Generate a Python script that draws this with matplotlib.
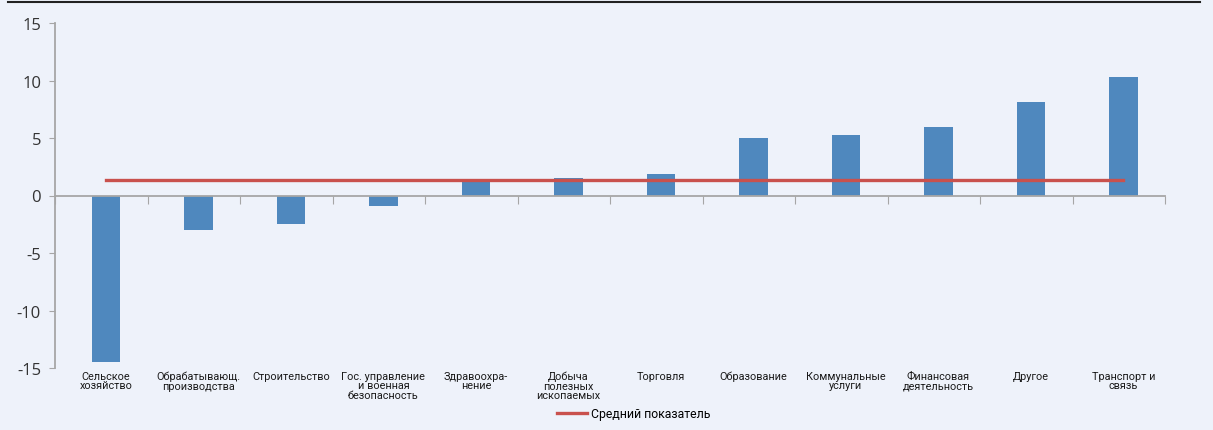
import numpy as np
import matplotlib
matplotlib.use("Agg")
import matplotlib.pyplot as plt
from matplotlib.lines import Line2D

categories = [
    "Сельское\nхозяйство",
    "Обрабатывающ.\nпроизводства",
    "Строительство",
    "Гос. управление\nи военная\nбезопасность",
    "Здравоохра-\nнение",
    "Добыча\nполезных\nископаемых",
    "Торговля",
    "Образование",
    "Коммунальные\nуслуги",
    "Финансовая\nдеятельность",
    "Другое",
    "Транспорт и\nсвязь",
]
values = [-14.5, -3.0, -2.5, -0.9, 1.2, 1.5, 1.9, 5.0, 5.3, 6.0, 8.1, 10.3]
mean_value = 1.35
legend_label = "Средний показатель"

bg = "#EEF2FA"
bar_color = "#4F88BE"
line_color = "#C9514D"
axis_color = "#A6A6A6"

plt.rcParams["font.family"] = ["Roboto", "DejaVu Sans"]

fig = plt.figure(figsize=(12.13, 4.31), dpi=100, facecolor=bg)
ax = fig.add_axes([55 / 1213, 1 - 369 / 431, 1110 / 1213, 345 / 431])
ax.set_facecolor(bg)

x = np.arange(len(categories))
shift = 0.05  # bars sit slightly right of the category centre
ax.bar(x + shift, values, width=0.31, color=bar_color, zorder=2)
ax.plot([x[0] + shift, x[-1] + shift], [mean_value, mean_value],
        color=line_color, lw=2.4, zorder=3)

ax.set_xlim(-0.5, len(categories) - 0.5)
ax.set_ylim(-15, 15)
ax.set_yticks([-15, -10, -5, 0, 5, 10, 15])
ax.set_yticklabels(["-15", "-10", "-5", "0", "5", "10", "15"])
ax.tick_params(axis="y", length=4, color=axis_color, labelsize=12,
               labelcolor="#333333", pad=6)
for t in ax.get_yticklabels():
    t.set_family(["Open Sans", "DejaVu Sans"])

for s in ["top", "right"]:
    ax.spines[s].set_visible(False)
ax.spines["left"].set_color(axis_color)
ax.spines["bottom"].set_color(axis_color)
ax.spines["bottom"].set_position(("data", 0))
ax.spines["bottom"].set_linewidth(1.3)
ax.spines["left"].set_linewidth(1.3)

ax.set_xticks(np.arange(len(categories) + 1) - 0.5)
ax.set_xticklabels([])
ax.tick_params(axis="x", length=6, color=axis_color, direction="out")

trans = ax.get_xaxis_transform()
for xi, lab in zip(x, categories):
    ax.text(xi + shift, -0.008, lab, transform=trans, ha="center", va="top",
            fontsize=7.8, color="#1A1A1A", linespacing=0.95)

fig.add_artist(Line2D([8 / 1213, 1200 / 1213], [1 - 3 / 431, 1 - 3 / 431],
                      color="#222222", lw=1.5))

handle = Line2D([], [], color=line_color, lw=2.4)
fig.legend([handle], [legend_label], loc="center", bbox_to_anchor=(634 / 1213, 1 - 415 / 431),
           frameon=False, fontsize=8.8, handlelength=2.4, handletextpad=0.4)

fig.savefig("out.png", dpi=100, facecolor=bg)
